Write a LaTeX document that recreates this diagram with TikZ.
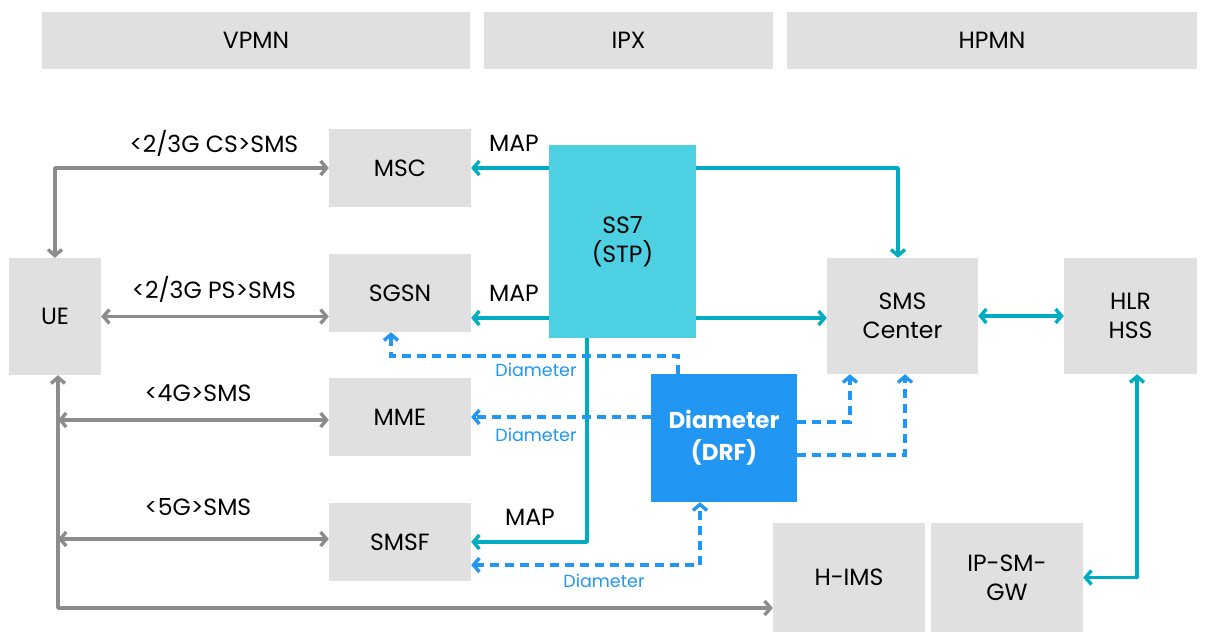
\documentclass[tikz,border=0pt]{standalone}
\usepackage{fontspec}
\setmainfont{Poppins}
\usetikzlibrary{arrows.meta}
\definecolor{boxgray}{HTML}{E0E0E0}
\definecolor{lgray}{HTML}{8C8C8C}
\definecolor{tealln}{HTML}{00ACC1}
\definecolor{ssfill}{HTML}{4DD0E1}
\definecolor{dblue}{HTML}{2196F3}
\tikzset{
  box/.style={fill=boxgray, inner sep=0pt, align=center, font=\fontsize{23.5}{29}\selectfont, text=black},
  hdr/.style={box, minimum height=57pt},
  tip/.style={arrows={#1}},
  barb/.tip={Straight Barb[length=6pt,width=14pt]},
  gl/.style={draw=lgray, line width=3.4pt, line join=round},
  tl/.style={draw=tealln, line width=3.4pt, line join=round},
  dl/.style={draw=dblue, line width=3.4pt, dash pattern=on 9pt off 6pt},
  lab/.style={font=\fontsize{23.5}{28}\selectfont, inner sep=0pt},
  dlab/.style={font=\fontsize{17.5}{20}\selectfont, text=dblue, inner sep=0pt}
}
\begin{document}
\begin{tikzpicture}[x=1pt,y=-1pt]
\useasboundingbox (0,0) rectangle (1210,632);
% headers
\node[hdr, minimum width=428pt] (vpmn) at (256,40.5) {VPMN};
\node[hdr, minimum width=289pt] (ipx) at (628.5,40.5) {IPX};
\node[hdr, minimum width=410pt] (hpmn) at (992,40.5) {HPMN};
% boxes
\node[box, minimum width=92pt, minimum height=117pt] (ue) at (55,316.5) {UE};
\node[box, minimum width=142pt, minimum height=78pt] (msc) at (400,168) {MSC};
\node[box, minimum width=142pt, minimum height=78pt] (sgsn) at (400,293) {SGSN};
\node[box, minimum width=142pt, minimum height=78pt] (mme) at (400,417) {MME};
\node[box, minimum width=142pt, minimum height=78pt] (smsf) at (400,542) {SMSF};
\node[box, fill=ssfill, minimum width=147pt, minimum height=193pt] (ss7) at (622.5,241.5) {SS7\\(STP)};
\node[box, minimum width=151pt, minimum height=116pt] (smsc) at (902.5,316) {SMS\\Center};
\node[box, minimum width=133pt, minimum height=116pt] (hlr) at (1130.5,316) {HLR\\HSS};
\node[box, fill=dblue, text=white, font=\fontsize{23}{32}\selectfont\bfseries, minimum width=146pt, minimum height=128pt] (drf) at (724,438) {Diameter\\(DRF)};
\node[box, minimum width=152pt, minimum height=109pt] (hims) at (849,577.5) {H-IMS};
\node[box, minimum width=152pt, minimum height=109pt] (ipsm) at (1007,577.5) {IP-SM-\\GW};
% helper coordinates
\coordinate (c318) at (0,318);
\coordinate (c608) at (58,608);
\coordinate (c420) at (58,420);
\coordinate (c539) at (58,539);
\coordinate (c587) at (587,0);
\coordinate (c898) at (898,0);
\coordinate (c1137) at (1137,0);
\coordinate (c678) at (678,356);
\coordinate (c391) at (391,0);
\coordinate (c422) at (0,422);
\coordinate (c455) at (0,455);
\coordinate (c850) at (850,0);
\coordinate (c905) at (905,0);
\coordinate (c565) at (700,565);
% gray UE links
\draw[gl, tip={barb-barb}] (msc.west) -| (ue.north);
\draw[gl, tip={barb-barb}] (ue.east) -- (ue.east -| sgsn.west);
\draw[gl, tip={barb-barb}] (ue.south -| c608) |- (hims.west |- c608);
\draw[gl, tip={barb-barb}] (c420) -- (c420 -| mme.west);
\draw[gl, tip={barb-barb}] (c539) -- (c539 -| smsf.west);
\node[lab] (l1) at (214,143) {<2/3G CS>SMS};
\node[lab] (l2) at (214,289) {<2/3G PS>SMS};
\node[lab] (l3) at (198,393) {<4G>SMS};
\node[lab] (l4) at (198,507) {<5G>SMS};
% teal MAP links
\draw[tl, tip={-barb}] (ss7.west |- msc) -- (msc.east);
\draw[tl, tip={-barb}] (ss7.west |- c318) -- (sgsn.east |- c318);
\draw[tl, tip={-barb}] (ss7.south -| c587) |- (smsf.east);
\node[lab] (m1) at (514,143) {MAP};
\node[lab] (m2) at (514,293) {MAP};
\node[lab] (m3) at (530,517) {MAP};
\draw[tl, tip={-barb}] (ss7.east |- msc) -| (smsc.north -| c898);
\draw[tl, tip={-barb}] (ss7.east |- c318) -- (smsc.west |- c318);
\draw[tl, tip={barb-barb}] (smsc.east) -- (hlr.west);
\draw[tl, tip={barb-barb}] (hlr.south -| c1137) |- (ipsm.east);
% dashed Diameter links
\draw[dl, tip={-barb}] (drf.north -| c678) -- (c678) -| (sgsn.south -| c391);
\draw[dl, tip={-barb}] (drf.west |- mme) -- (mme.east);
\draw[dl, tip={-barb}] (drf.east |- c422) -| (smsc.south -| c850);
\draw[dl, tip={-barb}] (drf.east |- c455) -| (smsc.south -| c905);
\draw[dl, tip={barb-barb}] (smsf.east |- c565) -| (drf.south -| c565);
\node[dlab] (d1) at (536,370) {Diameter};
\node[dlab] (d2) at (536,435) {Diameter};
\node[dlab] (d3) at (604,581) {Diameter};
\end{tikzpicture}
\end{document}
